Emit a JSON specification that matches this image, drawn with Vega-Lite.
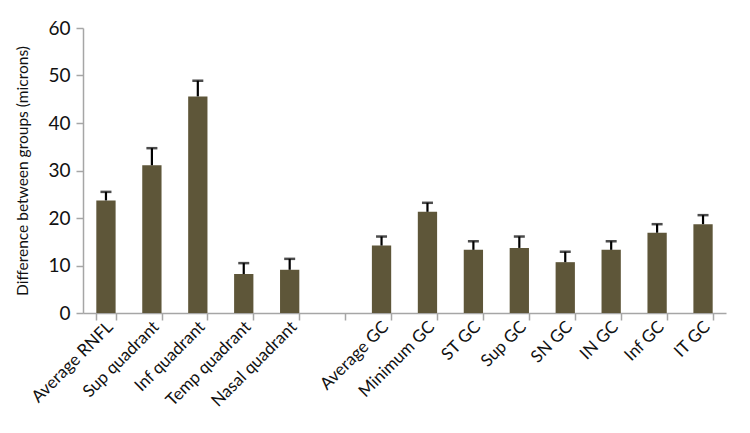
{
  "$schema": "https://vega.github.io/schema/vega-lite/v6.json",
  "autosize": {"type": "none"},
  "padding": {"left": 83, "top": 28, "right": 24, "bottom": 120},
  "width": 643,
  "height": 285,
  "background": "white",
  "config": {
    "view": {"stroke": null},
    "font": "Lato",
    "axis": {"grid": false, "domainColor": "#a6a6a6", "tickColor": "#a6a6a6", "domainWidth": 1.5, "tickWidth": 1.5, "labelColor": "#111", "titleColor": "#111", "labelFont": "Lato", "titleFont": "Lato", "labelOverlap": false}
  },
  "data": {
    "values": [
      {"measure": "Average RNFL", "diff": 23.7, "upper": 25.5},
      {"measure": "Sup quadrant", "diff": 31.1, "upper": 34.7},
      {"measure": "Inf quadrant", "diff": 45.6, "upper": 48.9},
      {"measure": "Temp quadrant", "diff": 8.2, "upper": 10.5},
      {"measure": "Nasal quadrant", "diff": 9.1, "upper": 11.4},
      {"measure": "Average GC", "diff": 14.2, "upper": 16.1},
      {"measure": "Minimum GC", "diff": 21.3, "upper": 23.2},
      {"measure": "ST GC", "diff": 13.3, "upper": 15.1},
      {"measure": "Sup GC", "diff": 13.7, "upper": 16.1},
      {"measure": "SN GC", "diff": 10.7, "upper": 12.9},
      {"measure": "IN GC", "diff": 13.3, "upper": 15.1},
      {"measure": "Inf GC", "diff": 16.9, "upper": 18.7},
      {"measure": "IT GC", "diff": 18.7, "upper": 20.6}
    ]
  },
  "encoding": {
    "x": {
      "field": "measure", "type": "nominal",
      "scale": {"domain": ["Average RNFL", "Sup quadrant", "Inf quadrant", "Temp quadrant", "Nasal quadrant", " ", "Average GC", "Minimum GC", "ST GC", "Sup GC", "SN GC", "IN GC", "Inf GC", "IT GC"], "paddingInner": 0.58, "paddingOuter": 0.29},
      "axis": {"title": null, "labelAngle": -45, "labelAlign": "right", "labelBaseline": "middle", "labelFontSize": 17, "tickBand": "extent", "tickSize": 7, "labelPadding": 4, "labelOffset": 4}
    }
  },
  "layer": [
    {
      "mark": {"type": "bar", "color": "#5e5639"},
      "encoding": {
        "y": {"field": "diff", "type": "quantitative", "scale": {"domain": [0, 60]},
          "axis": {"title": "Difference between groups (microns)", "titleFontSize": 15.5, "titleFontWeight": "normal", "titlePadding": 17, "labelFontSize": 19, "values": [0, 10, 20, 30, 40, 50, 60], "tickSize": 7, "labelPadding": 6}}
      }
    },
    {
      "mark": {"type": "rule", "color": "#000", "strokeWidth": 2.2},
      "encoding": {
        "y": {"field": "diff", "type": "quantitative"},
        "y2": {"field": "upper"}
      }
    },
    {
      "mark": {"type": "tick", "color": "#000", "thickness": 2.5, "size": 11},
      "encoding": {
        "y": {"field": "upper", "type": "quantitative"}
      }
    }
  ]
}
